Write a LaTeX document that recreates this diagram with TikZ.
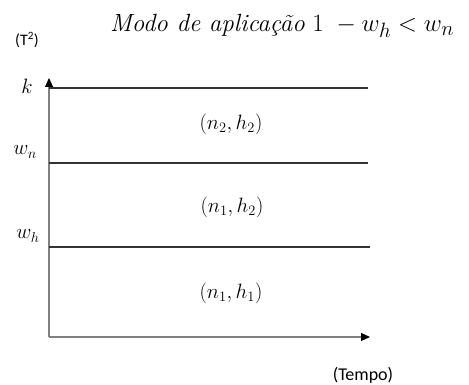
\documentclass[tikz,border=0pt]{standalone}
\usepackage{fontspec}
\setsansfont{Carlito}
\usetikzlibrary{arrows.meta}

\begin{document}
\begin{tikzpicture}[x=1pt, y=-1pt,
  axis/.style={draw=black!50, line width=1.1pt, -{Triangle[length=9pt, width=8pt, color=black]}},
  level/.style={draw=black!80, line width=1.1pt},
  mlabel/.style={font=\fontsize{20.74}{24}\selectfont},
  slabel/.style={font=\sffamily\fontsize{17}{20}\selectfont}]
\useasboundingbox (0,0) rectangle (469,385);

% Axes
\coordinate (O) at (49,337);
\coordinate (ytop) at (49,78);
\coordinate (xend) at (370,337);
\draw[axis] (O) -- (ytop);
\draw[axis] (O) -- (xend);

% Levels
\coordinate (k0) at (49,88);    \coordinate (k1) at (368,88);
\coordinate (wn0) at (49,163);  \coordinate (wn1) at (368,163);
\coordinate (wh0) at (49,247);  \coordinate (wh1) at (370,247);
\draw[level] (k0) -- (k1);
\draw[level] (wn0) -- (wn1);
\draw[level] (wh0) -- (wh1);

\node[mlabel] (klab) at (27,86) {$k$};
\node[mlabel] (wnlab) at (25,152) {$w_n$};
\node[mlabel] (whlab) at (28,236) {$w_h$};

% Regions
\node[mlabel] (r22) at (231,124) {$(n_2,h_2)$};
\node[mlabel] (r12) at (232,207) {$(n_1,h_2)$};
\node[mlabel] (r11) at (231,293) {$(n_1,h_1)$};

% Axis names and title
\node[slabel, font=\sffamily\fontsize{16}{19}\selectfont] (ylab) at (27,40) {(T\textsuperscript{2})};
\node[slabel, font=\sffamily\fontsize{18}{21}\selectfont] (xlab) at (363,375) {(Tempo)};
\node[font=\fontsize{24.88}{28}\selectfont] (title) at (282,26) {\textit{Modo de aplicação} $1\ -w_h<w_n$};
\end{tikzpicture}
\end{document}
